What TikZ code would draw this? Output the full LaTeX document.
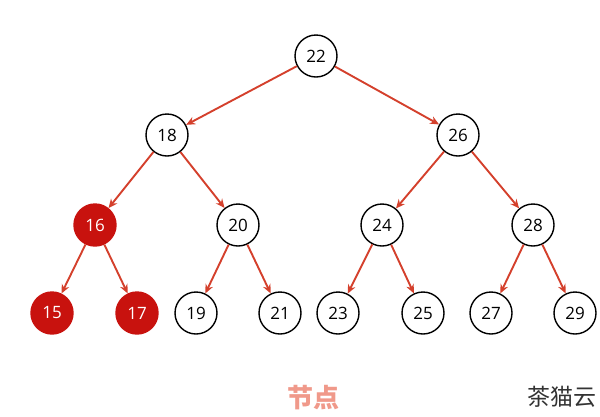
\documentclass[tikz,border=0pt]{standalone}
\usepackage{fontspec}
\setmainfont{Open Sans}
\newfontfamily\cjk{Noto Sans CJK SC}
\usetikzlibrary{arrows.meta}
\definecolor{edgered}{HTML}{D4402C}
\definecolor{fillred}{HTML}{C8120E}
\definecolor{labelpink}{HTML}{F0998A}
\begin{document}
\begin{tikzpicture}[x=1pt,y=-1pt,
  tnode/.style={circle,draw=black,line width=1.4pt,fill=white,minimum size=42pt,inner sep=0pt,font=\fontsize{17}{17}\selectfont},
  rnode/.style={tnode,draw=fillred,fill=fillred,text=white},
  edge/.style={draw=edgered,line width=1.9pt,-{Stealth[length=9pt,width=8pt]}}]
\useasboundingbox (0,0) rectangle (600,416);
\node[tnode] (n22) at (316,56) {22};
\node[tnode] (n18) at (167,135) {18};
\node[tnode] (n26) at (458,135) {26};
\node[rnode] (n16) at (95,225) {16};
\node[tnode] (n20) at (238,225) {20};
\node[tnode] (n24) at (382,225) {24};
\node[tnode] (n28) at (533,225) {28};
\node[rnode] (n15) at (52,313) {15};
\node[rnode] (n17) at (137,313) {17};
\node[tnode] (n19) at (196,313) {19};
\node[tnode] (n21) at (280,313) {21};
\node[tnode] (n23) at (338,313) {23};
\node[tnode] (n25) at (423,313) {25};
\node[tnode] (n27) at (491,313) {27};
\node[tnode] (n29) at (575,313) {29};
\draw[edge] (n22) -- (n18);
\draw[edge] (n22) -- (n26);
\draw[edge] (n18) -- (n16);
\draw[edge] (n18) -- (n20);
\draw[edge] (n26) -- (n24);
\draw[edge] (n26) -- (n28);
\draw[edge] (n16) -- (n15);
\draw[edge] (n16) -- (n17);
\draw[edge] (n20) -- (n19);
\draw[edge] (n20) -- (n21);
\draw[edge] (n24) -- (n23);
\draw[edge] (n24) -- (n25);
\draw[edge] (n28) -- (n27);
\draw[edge] (n28) -- (n29);
\node[text=labelpink,font=\cjk\bfseries\fontsize{26}{26}\selectfont] (title) at (313,398) {节点};
\node[text=black!80,font=\cjk\fontsize{23}{23}\selectfont] (wm) at (562,397) {茶猫云};
\end{tikzpicture}
\end{document}
